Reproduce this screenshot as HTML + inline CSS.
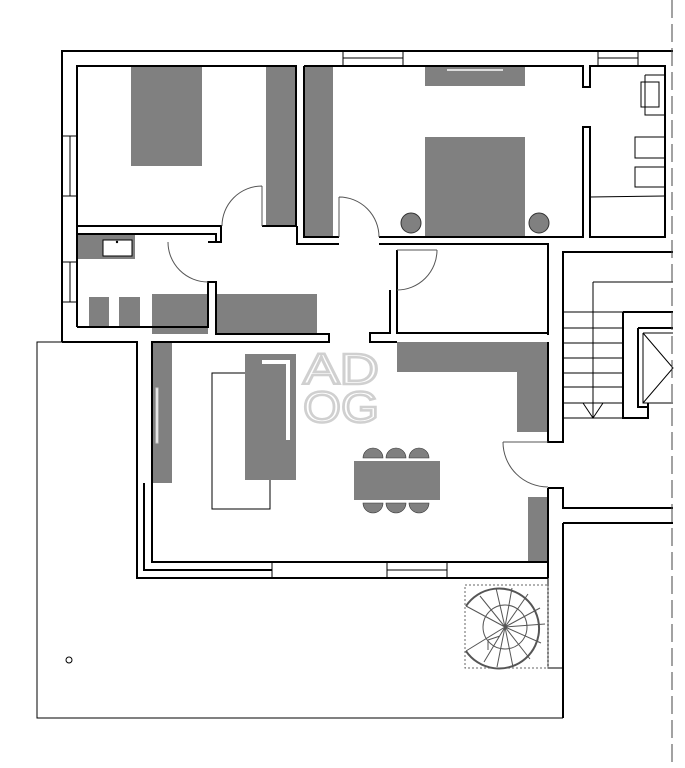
<!DOCTYPE html>
<html><head><meta charset="utf-8"><style>body{margin:0;background:#fff}svg{display:block}</style></head><body>
<svg width="685" height="768" viewBox="0 0 685 768" xmlns="http://www.w3.org/2000/svg">
<rect x="212" y="373" width="58" height="136" fill="none" stroke="#000" stroke-width="1"/>
<g fill="#808080">
<rect x="131" y="66" width="71" height="100"/>
<rect x="266" y="66" width="31" height="160"/>
<rect x="304" y="66" width="29" height="171"/>
<rect x="425" y="66" width="100" height="20"/>
<rect x="425" y="137" width="100" height="100"/>
<circle cx="411" cy="223" r="10" stroke="#333" stroke-width="1"/>
<circle cx="539" cy="223" r="10" stroke="#333" stroke-width="1"/>
<rect x="77" y="234" width="58" height="25"/>
<rect x="89" y="297" width="20" height="30"/>
<rect x="119" y="297" width="21" height="30"/>
<rect x="152" y="294" width="56" height="40"/>
<rect x="216" y="294" width="101" height="40"/>
<rect x="152" y="342" width="20" height="141"/>
<rect x="245" y="354" width="51" height="126"/>
<path d="M397 342H548V432H517V372H397Z"/>
<rect x="528" y="497" width="20" height="65"/>
<rect x="354" y="461" width="86" height="39"/>
<path d="M363 458a10 10 0 0 1 20 0ZM386 458a10 10 0 0 1 20 0ZM409 458a10 10 0 0 1 20 0Z" stroke="#333" stroke-width="0.6"/>
<path d="M363 503a10 10 0 0 0 20 0ZM386 503a10 10 0 0 0 20 0ZM409 503a10 10 0 0 0 20 0Z" stroke="#333" stroke-width="0.6"/>
</g>
<g fill="#fff" stroke="#000" stroke-width="1">
<rect x="103" y="240" width="29" height="16"/>
<path d="M262 360H290V440H286V364H262Z" stroke="none"/>
<rect x="156" y="388" width="2" height="55" stroke="#ccc"/>
<line x1="447" y1="70" x2="503" y2="70" stroke="#ddd" stroke-width="2"/>
</g>
<circle cx="117" cy="242" r="1.2" fill="#000"/>
<g fill="none" stroke="#000" stroke-width="2">
<path d="M62 342V51H673"/>
<path d="M77 327V66H296V226H262"/>
<path d="M77 226H221V242H208"/>
<path d="M77 234H216V242"/>
<path d="M304 66V237H339"/>
<path d="M297 226V244H339"/>
<path d="M304 66H583V87H590V66H665V237H590V127H583V237H379"/>
<path d="M379 244H548V335"/>
<path d="M397 250V333H548"/>
<path d="M390 290V333H370V342H397"/>
<path d="M62 342H137V578H548"/>
<path d="M77 327H208V282H216V334H329V342H152V483"/>
<path d="M144 483V570H272"/>
<path d="M152 483V562H548"/>
<path d="M548 342V442H563V252H673"/>
<path d="M548 488H563V508H673M563 523H673M563 523V718"/>
<path d="M548 488V578"/>
<path d="M623 312V418H648V403"/>
<path d="M638 328V407H648"/>
<path d="M623 312H673M638 328H673"/>
</g>
<g fill="none" stroke="#000" stroke-width="1">
<line x1="62" y1="136" x2="77" y2="136"/><line x1="62" y1="196" x2="77" y2="196"/><line x1="70" y1="136" x2="70" y2="196"/>
<line x1="62" y1="262" x2="77" y2="262"/><line x1="62" y1="302" x2="77" y2="302"/><line x1="70" y1="262" x2="70" y2="302"/>
<path d="M343 51V66M403 51V66M343 58H403M598 51V66M638 51V66M598 58H638"/>
<path d="M272 562V578M387 562V578M447 562V578M387 570H447"/>
<rect x="641" y="82" width="18" height="25"/>
<path d="M645 75H665M645 75V115H665"/>
<rect x="635" y="137" width="30" height="21"/>
<rect x="635" y="167" width="30" height="20"/>
<line x1="590" y1="197" x2="665" y2="196"/>
<path d="M563 252V442M593 282H673M593 282V418M583 403L593 418L603 403"/>
<path d="M563 312H623M563 328H623M563 343H623M563 358H623M563 373H623M563 387H623M563 403H623M563 418H623"/>
<path d="M643 333V403H673M643 333H673M643 333L673 368L643 403"/>
<path d="M137 342H37V718H563M548 578V668H563"/>
<circle cx="69" cy="660" r="3"/>
</g>
<g fill="none" stroke="#555" stroke-width="1">
<path d="M262 186A40 40 0 0 0 222 226M262 186V226"/>
<path d="M168 242A40 40 0 0 0 208 282"/>
<path d="M339 197A40 40 0 0 1 379 237M339 197V237"/>
<path d="M437 250A40 40 0 0 1 397 290M397 250H437"/>
<path d="M503 442A45 45 0 0 0 548 487M503 442H548"/>
</g>
<rect x="465" y="585" width="83" height="83" fill="none" stroke="#666" stroke-dasharray="2,2"/>
<g fill="none" stroke="#555" stroke-width="1">
<path d="M466 606A40 40 0 1 1 466 651" stroke-width="2"/>
<circle cx="505" cy="627" r="22"/>
<path d="M505 627L466 606M505 627L466 651M505 627L480 596M505 627L496 588M505 627L512 588M505 627L528 594M505 627L540 608M505 627L545 624M505 627L541 643M505 627L530 659M505 627L513 667M505 627L497 667M505 627L484 662M488 640V650M488 640L500 636"/>
</g>
<text x="303" y="384" font-family="Liberation Sans,sans-serif" font-size="44" fill="none" stroke="#d0d0d0" stroke-width="2.5" textLength="76" lengthAdjust="spacingAndGlyphs">AD</text>
<text x="303" y="422" font-family="Liberation Sans,sans-serif" font-size="44" fill="none" stroke="#d0d0d0" stroke-width="2.5" textLength="76" lengthAdjust="spacingAndGlyphs">OG</text>
<line x1="672" y1="0" x2="672" y2="768" stroke="#444" stroke-width="1" stroke-dasharray="18,6"/>
</svg>
</body></html>
